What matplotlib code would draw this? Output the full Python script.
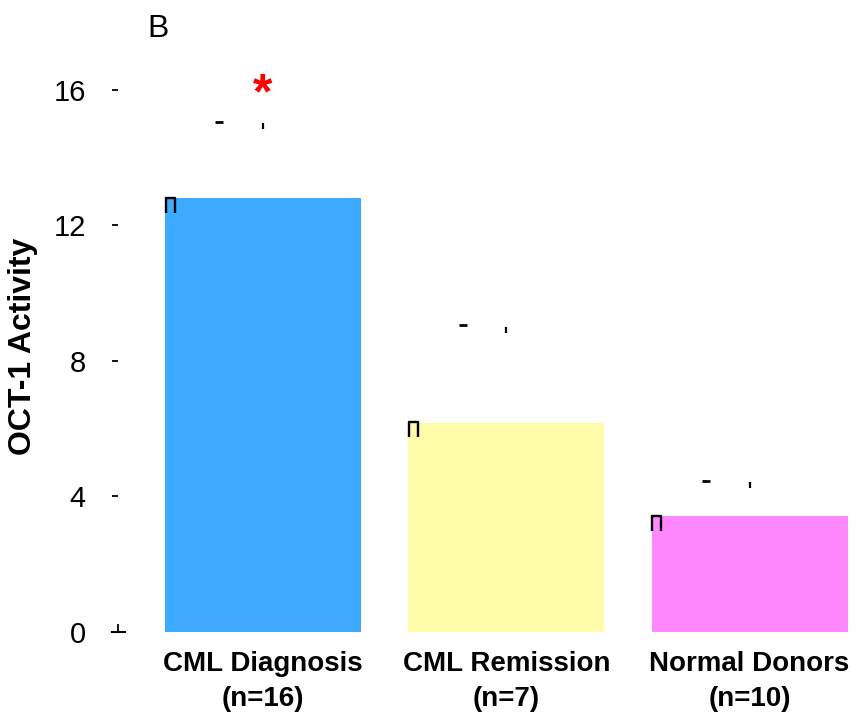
import numpy as np
import matplotlib
matplotlib.use('Agg')
import matplotlib.pyplot as plt
from matplotlib.path import Path

plt.rcParams['font.family'] = ['Liberation Sans', 'DejaVu Sans']

# data
groups = ['CML Diagnosis\n(n=16)', 'CML Remission\n(n=7)', 'Normal Donors\n(n=10)']
activity = [12.8, 6.17, 3.42]
err_top = [15.0, 9.0, 4.42]
bar_colors = ['#3DAAFF', '#FFFBA8', '#FF88FF']
yticks = [0, 4, 8, 12, 16]

fig = plt.figure(figsize=(8.67, 7.2), dpi=100)
ax = fig.add_axes([0.1361, 0.1222, 0.8559, 0.8014])

x = np.arange(len(groups))
w = 0.806
ax.bar(x, activity, width=w, color=bar_colors, edgecolor='none')

# small bracket glyphs at bar corners
bracket = Path([(-0.6, -1), (-0.6, 1), (0.6, 1), (0.6, -1)])
ax.plot(x - w / 2 + 0.019, np.array(activity) - 0.19, linestyle='none',
        marker=bracket, markersize=10.8, mfc='none', mec='black', mew=1.7)

# broken error bar remnants
ax.plot(x, np.array(err_top) - 0.08, linestyle='none', marker='|',
        markersize=4.5, mew=1.6, color='black')
ax.plot(x - 0.18, np.array(err_top) + 0.05, linestyle='none', marker='_',
        markersize=6, mew=2, color='black')

# significance star
ax.text(0, 15.85, '*', color='red', fontsize=36, fontweight='bold',
        ha='center', va='center')

ax.set_xlim(-0.596, 2.454)
ax.set_ylim(0, 17.03)
for s in ax.spines.values():
    s.set_visible(False)

ax.set_yticks(yticks)
ax.set_yticklabels([str(t) for t in yticks])
ax.tick_params(axis='y', length=4.3, width=1.3, pad=19, labelsize=21)
ax.set_xticks(x)
ax.set_xticklabels(groups, fontweight='bold', fontsize=20, linespacing=1.45)
ax.tick_params(axis='x', length=0, pad=14)

# little corner mark at the origin
x0 = -0.596
ax.plot([x0 - 0.025, x0 + 0.029], [0, 0], color='black', lw=1.5, clip_on=False)
ax.plot([x0, x0], [0, 0.21], color='black', lw=1.3, clip_on=False)

fig.text(23 / 867, 0.519, 'OCT-1 Activity', rotation=90, fontsize=23,
         fontweight='bold', ha='center', va='center')
fig.text(147 / 867, (720 - 37) / 720, 'B', fontsize=23, ha='left',
         va='baseline')

fig.savefig('out.png', dpi=100)
